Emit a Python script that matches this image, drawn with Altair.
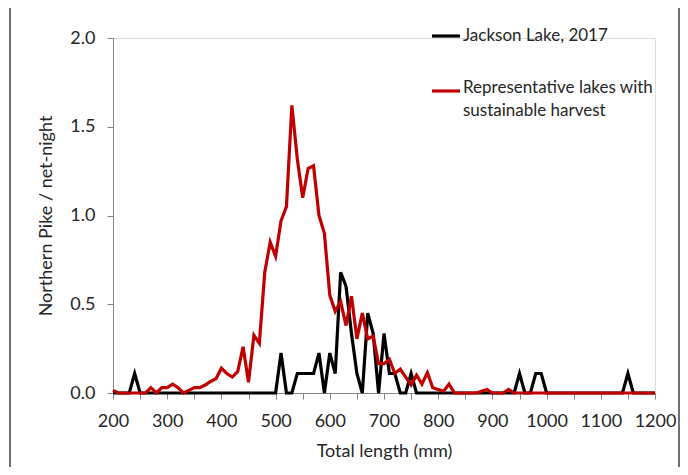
import altair as alt
import pandas as pd

lengths = list(range(200, 1201, 10))

jackson = (
    [0, 0, 0, 0, 0.11, 0, 0, 0, 0, 0] +                      # 200-290
    [0, 0, 0, 0, 0, 0, 0, 0, 0, 0] +                         # 300-390
    [0, 0, 0, 0, 0, 0, 0, 0, 0, 0] +                         # 400-490
    [0, 0.225, 0, 0, 0.11, 0.11, 0.11, 0.11, 0.225, 0] +     # 500-590
    [0.225, 0.11, 0.68, 0.60, 0.335, 0.11, 0, 0.45, 0.335, 0] +  # 600-690
    [0.335, 0.11, 0.11, 0, 0, 0.11, 0, 0, 0, 0] +            # 700-790
    [0, 0, 0, 0, 0, 0, 0, 0, 0, 0] +                         # 800-890
    [0, 0, 0, 0, 0, 0.11, 0, 0, 0.11, 0.11] +                # 900-990
    [0, 0, 0, 0, 0, 0, 0, 0, 0, 0] +                         # 1000-1090
    [0, 0, 0, 0, 0, 0.11, 0, 0, 0, 0] +                      # 1100-1190
    [0]                                                      # 1200
)

representative = (
    [0.015, 0, 0, 0, 0, 0, 0, 0.03, 0, 0.03] +
    [0.03, 0.05, 0.03, 0, 0.015, 0.03, 0.03, 0.045, 0.065, 0.08] +
    [0.14, 0.11, 0.09, 0.12, 0.26, 0.06, 0.325, 0.28, 0.68, 0.85] +
    [0.77, 0.97, 1.05, 1.62, 1.32, 1.10, 1.265, 1.28, 1.00, 0.90] +
    [0.55, 0.46, 0.515, 0.38, 0.545, 0.305, 0.45, 0.305, 0.32, 0.165] +
    [0.165, 0.19, 0.11, 0.135, 0.09, 0.045, 0.1, 0.05, 0.115, 0.03] +
    [0.02, 0.01, 0.05, 0, 0, 0, 0, 0, 0.01, 0.02] +
    [0, 0, 0, 0.02, 0, 0, 0, 0, 0, 0] +
    [0, 0, 0, 0, 0, 0, 0, 0, 0, 0] +
    [0, 0, 0, 0, 0, 0, 0, 0, 0, 0] +
    [0]
)

series_names = ["Jackson Lake, 2017", "Representative lakes with sustainable harvest"]
series_colors = ["#000000", "#C00000"]
legend_lines = [["Jackson Lake, 2017"], ["Representative lakes with", "sustainable harvest"]]

FONT = "Lato"
TXT = "#262626"
AX = "#868686"

df_j = pd.DataFrame({"length": lengths, "value": jackson, "series": series_names[0]})
df_r = pd.DataFrame({"length": lengths, "value": representative, "series": series_names[1]})

x_enc = alt.X(
    "length:Q",
    scale=alt.Scale(domain=[200, 1200], nice=False),
    axis=alt.Axis(
        title="Total length (mm)",
        values=list(range(200, 1201, 50)),
        format="d",
        labelExpr="datum.value % 100 == 0 ? datum.label : ''",
        grid=False, domainColor=AX, tickColor=AX, tickSize=6,
        labelFont=FONT, labelFontSize=18, labelColor=TXT, labelPadding=13,
        titleFont=FONT, titleFontSize=18, titleColor=TXT, titleFontWeight="normal",
        titlePadding=12, labelFlush=False,
    ),
)
y_enc = alt.Y(
    "value:Q",
    scale=alt.Scale(domain=[0, 2.0], nice=False),
    axis=alt.Axis(
        title="Northern Pike / net-night",
        values=[0, 0.5, 1.0, 1.5, 2.0], format=".1f",
        grid=False, domainColor=AX, tickColor=AX, tickSize=6,
        labelFont=FONT, labelFontSize=18, labelColor=TXT, labelPadding=12,
        titleFont=FONT, titleFontSize=18, titleColor=TXT, titleFontWeight="normal",
        titlePadding=14,
    ),
)

line_j = alt.Chart(df_j).mark_line(color=series_colors[0], strokeWidth=3.2).encode(x=x_enc, y=y_enc)
line_r = alt.Chart(df_r).mark_line(color=series_colors[1], strokeWidth=3.2).encode(x=x_enc, y=y_enc)

# manual legend
leg_df = pd.DataFrame({"series": series_names, "color": series_colors,
                       "ypos": [-2, 53], "lines": legend_lines})
leg_j = alt.Chart(leg_df.iloc[[0]]).mark_rule(color=series_colors[0], strokeWidth=3.2).encode(
    x=alt.value(319), x2=alt.value(347), y=alt.value(-2))
leg_r = alt.Chart(leg_df.iloc[[1]]).mark_rule(color=series_colors[1], strokeWidth=3.2).encode(
    x=alt.value(319), x2=alt.value(347), y=alt.value(53))
leg_tj = alt.Chart(leg_df.iloc[[0]]).mark_text(
    align="left", baseline="middle", font=FONT, fontSize=17, color=TXT, lineHeight=23
).encode(x=alt.value(350), y=alt.value(-2), text="lines")
leg_tr = alt.Chart(leg_df.iloc[[1]]).mark_text(
    align="left", baseline="top", font=FONT, fontSize=17, color=TXT, lineHeight=23, dy=-11
).encode(x=alt.value(350), y=alt.value(53), text="lines")

# outer frame sides
frame_l = alt.Chart(leg_df.iloc[[0]]).mark_rule(color="#404040", strokeWidth=1.5).encode(
    x=alt.value(-103), y=alt.value(-40), y2=alt.value(445))
frame_r = alt.Chart(leg_df.iloc[[0]]).mark_rule(color="#404040", strokeWidth=1.5).encode(
    x=alt.value(566), y=alt.value(-40), y2=alt.value(445))

chart = alt.layer(line_j, line_r, leg_j, leg_r, leg_tj, leg_tr, frame_l, frame_r).properties(
    width=542, height=355,
    autosize=alt.AutoSizeParams(type="none"),
    padding={"left": 105, "top": 30, "right": 25, "bottom": 74},
).configure_view(stroke=None).configure(background="white")

chart.save("out.html", embed_options={"renderer": "svg", "actions": False})
